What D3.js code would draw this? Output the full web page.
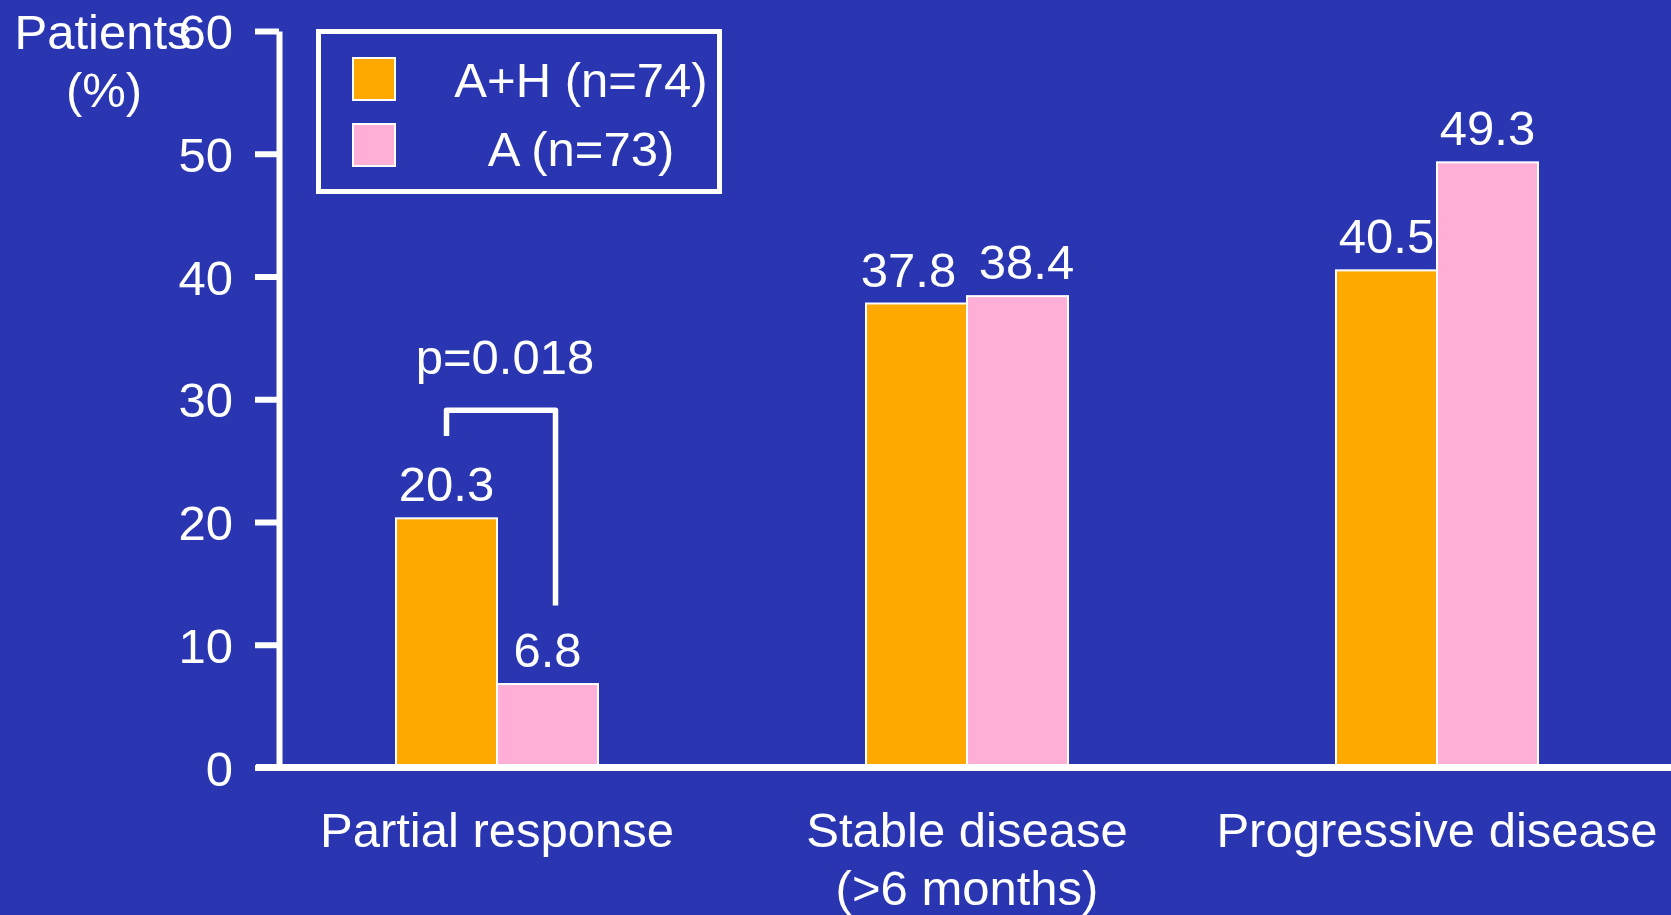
<!DOCTYPE html>
<html>
<head>
<meta charset="utf-8">
<script src="https://cdn.jsdelivr.net/npm/d3@7"></script>
<style>
  html, body { margin: 0; padding: 0; background: #2A35B2; }
  svg { display: block; }
  text { font-family: "Liberation Sans", Arial, sans-serif; fill: #fff; }
</style>
</head>
<body>
<svg id="chart" width="1671" height="915"></svg>
<script>
// Response categories (second line of a label is split on "|")
const categories = ["Partial response", "Stable disease|(>6 months)", "Progressive disease"];
const seriesNames = ["A+H (n=74)", "A (n=73)"];
const seriesColors = ["#FFA800", "#FFAED6"];
const valuesAH = [20.3, 37.8, 40.5];
const valuesA = [6.8, 38.4, 49.3];
const yTicks = [0, 10, 20, 30, 40, 50, 60];
const pValueText = "p=0.018";
// bracket over the partial-response pair: top level, left foot, right foot (in % units)
const bracketLevels = [29.1, 27.0, 13.2];

const W = 1671, H = 915;
const svg = d3.select("#chart");
svg.append("rect").attr("width", W).attr("height", H).attr("fill", "#2A35B2");

const y = d3.scaleLinear().domain([0, 60]).range([767.5, 31]);
const x0 = d3.scaleBand().domain(categories).range([262, 1672]);
const groupWidth = 202;
const x1 = d3.scaleBand().domain(seriesNames).range([0, groupWidth]);
const groupLeft = c => x0(c) + (x0.bandwidth() - groupWidth) / 2;

const rows = [];
categories.forEach((c, i) => {
  // when the two labels of a pair sit at nearly the same height, spread them apart
  const close = Math.abs(valuesAH[i] - valuesA[i]) < 3;
  rows.push({ cat: c, s: seriesNames[0], v: valuesAH[i], color: seriesColors[0], dx: close ? -8 : 0 });
  rows.push({ cat: c, s: seriesNames[1], v: valuesA[i], color: seriesColors[1], dx: close ? 9 : 0 });
});

// bars
svg.append("g").selectAll("rect").data(rows).join("rect")
  .attr("x", d => groupLeft(d.cat) + x1(d.s))
  .attr("y", d => y(d.v))
  .attr("width", x1.bandwidth())
  .attr("height", d => y(0) - y(d.v))
  .attr("fill", d => d.color)
  .attr("stroke", "#fff")
  .attr("stroke-width", 2);

// value labels
svg.append("g").selectAll("text").data(rows).join("text")
  .attr("x", d => groupLeft(d.cat) + x1(d.s) + x1.bandwidth() / 2 + d.dx)
  .attr("y", d => y(d.v) - 17)
  .attr("text-anchor", "middle")
  .attr("font-size", 49)
  .text(d => d.v.toFixed(1));

// y axis
const yAxis = svg.append("g").attr("transform", "translate(279,0)")
  .call(d3.axisLeft(y).tickValues(yTicks).tickSize(24).tickSizeOuter(0).tickPadding(22));
yAxis.select(".domain").attr("stroke", "#fff").attr("stroke-width", 6);
yAxis.selectAll(".tick line").attr("stroke", "#fff").attr("stroke-width", 6);
yAxis.selectAll(".tick text")
  .attr("fill", "#fff")
  .attr("font-size", 49)
  .attr("font-family", "Liberation Sans, Arial, sans-serif")
  .attr("dy", "0.36em");

// x axis baseline
svg.append("line")
  .attr("x1", 256).attr("x2", W)
  .attr("y1", y(0)).attr("y2", y(0))
  .attr("stroke", "#fff").attr("stroke-width", 7);

// category labels
const catLabels = svg.append("g").selectAll("text").data(categories).join("text")
  .attr("x", c => x0(c) + x0.bandwidth() / 2)
  .attr("y", 847)
  .attr("text-anchor", "middle")
  .attr("font-size", 49);
catLabels.each(function (c) {
  const parts = c.split("|");
  d3.select(this).selectAll("tspan").data(parts).join("tspan")
    .attr("x", x0(c) + x0.bandwidth() / 2)
    .attr("dy", (p, i) => i === 0 ? 0 : 58)
    .text(p => p);
});

// y axis title
svg.append("text").attr("x", 103).attr("y", 49).attr("text-anchor", "middle")
  .attr("font-size", 49).text("Patients");
svg.append("text").attr("x", 104).attr("y", 107).attr("text-anchor", "middle")
  .attr("font-size", 49).text("(%)");

// significance bracket
const pc = categories[0];
const bxL = groupLeft(pc) + x1(seriesNames[0]) + x1.bandwidth() / 2;
const bxR = groupLeft(pc) + x1(seriesNames[1]) + x1.bandwidth() / 2 + 8;
svg.append("path")
  .attr("d", d3.line()([
    [bxL, y(bracketLevels[1])],
    [bxL, y(bracketLevels[0])],
    [bxR, y(bracketLevels[0])],
    [bxR, y(bracketLevels[2])]
  ]))
  .attr("fill", "none").attr("stroke", "#fff")
  .attr("stroke-width", 5.5).attr("stroke-linejoin", "round");
svg.append("text").attr("x", (bxL + bxR) / 2 + 4).attr("y", 374)
  .attr("text-anchor", "middle").attr("font-size", 49).text(pValueText);

// legend
const lg = svg.append("g");
lg.append("rect").attr("x", 318.5).attr("y", 31.5).attr("width", 401).attr("height", 160)
  .attr("fill", "none").attr("stroke", "#fff").attr("stroke-width", 5);
const legendRows = [{ y: 58, base: 97 }, { y: 124, base: 166 }];
seriesNames.forEach((s, i) => {
  lg.append("rect").attr("x", 353).attr("y", legendRows[i].y)
    .attr("width", 42).attr("height", 42)
    .attr("fill", seriesColors[i]).attr("stroke", "#fff").attr("stroke-width", 2);
  lg.append("text").attr("x", 581).attr("y", legendRows[i].base)
    .attr("text-anchor", "middle").attr("font-size", 49).text(s);
});
</script>
</body>
</html>
